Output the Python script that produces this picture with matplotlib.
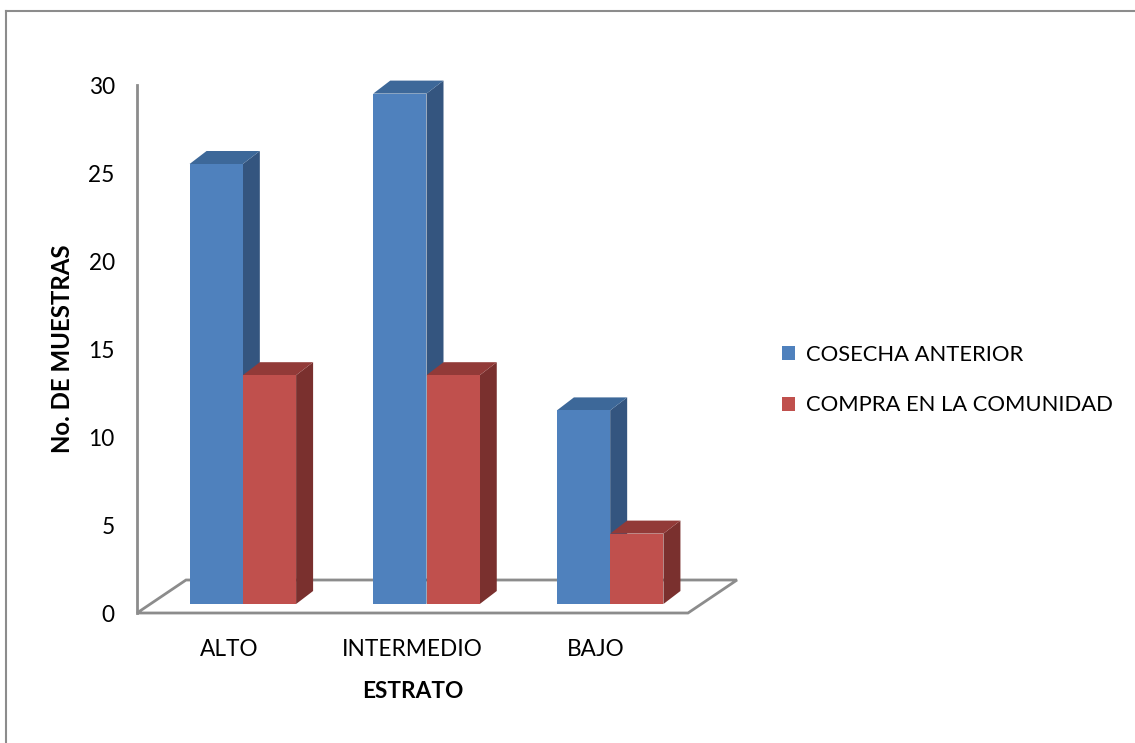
import matplotlib
matplotlib.use("Agg")
import matplotlib.pyplot as plt
import matplotlib.transforms as mtransforms
from matplotlib.patches import Polygon, Patch
from matplotlib.lines import Line2D

# ---- data ----
categories = ["ALTO", "INTERMEDIO", "BAJO"]
series_names = ["COSECHA ANTERIOR", "COMPRA EN LA COMUNIDAD"]
cosecha_anterior = [25, 29, 11]
compra_comunidad = [13, 13, 4]
y_ticks = [0, 5, 10, 15, 20, 25, 30]
x_title = "ESTRATO"
y_title = "No. DE MUESTRAS"

# ---- style ----
FONT = "Lato"
plt.rcParams["font.family"] = [FONT, "DejaVu Sans"]
W, H = 1135, 743
DPI = 100
FS = 16.3
txt_col = "#000000"
front_col = ["#4F81BD", "#C0504D"]
side_col = ["#34557F", "#7A302E"]
top_col = ["#3D6899", "#923A38"]
grey = "#8C8C8C"

bar_w = 0.29
bar_off_px = (14, 9)      # bar front plane offset from floor front (px, up)
bar_depth_px = (17, 13)   # bar depth vector (px, up)
floor_depth_px = (49, 33)

fig = plt.figure(figsize=(W / DPI, H / DPI), dpi=DPI)
ax_left, ax_right = 137, 688
ax_bot, ax_top = 613, 85
ax = fig.add_axes([ax_left / W, (H - ax_bot) / H, (ax_right - ax_left) / W, (ax_bot - ax_top) / H])
ax.set_xlim(-0.5, len(categories) - 0.5)
ax.set_ylim(0, 30)
ax.patch.set_alpha(0)
for s in ["top", "right", "bottom"]:
    ax.spines[s].set_visible(False)
ax.spines["left"].set_color(grey)
ax.spines["left"].set_linewidth(2)
ax.set_yticks(y_ticks)
ax.set_yticklabels([str(t) for t in y_ticks], fontsize=FS, color=txt_col)
ax.tick_params(axis="y", length=0, pad=16)
ax.set_xticks(range(len(categories)))
ax.set_xticklabels(categories, fontsize=FS, color=txt_col)
ax.tick_params(axis="x", length=0, pad=19)
ax.set_xlabel(x_title, fontsize=FS, fontweight="bold", labelpad=15, color=txt_col)
ax.set_ylabel(y_title, fontsize=17.3, fontweight="bold", labelpad=10, color=txt_col)

fig.canvas.draw()


def shift(pt, px):
    """Move a data point by a pixel vector, returning data coords."""
    d = ax.transData.transform(pt)
    return tuple(ax.transData.inverted().transform((d[0] + px[0], d[1] + px[1])))


# floor
n = len(categories)
fl = [(-0.5, 0), (n - 0.5, 0)]
fb = [shift(fl[1], floor_depth_px), shift(fl[0], floor_depth_px)]
floor = Polygon([fl[0], fl[1], fb[0], fb[1]], closed=True, facecolor="white",
                edgecolor=grey, lw=2, joinstyle="miter", clip_on=False, zorder=1)
ax.add_patch(floor)

off = mtransforms.ScaledTranslation(bar_off_px[0] / DPI, bar_off_px[1] / DPI, fig.dpi_scale_trans)
series = [cosecha_anterior, compra_comunidad]
for i in range(n):
    for k, vals in enumerate(series):
        v = vals[i]
        x0 = i - bar_w + k * bar_w
        x1 = x0 + bar_w
        z = 2 + i * 10 + k * 3
        p10 = shift((x1, 0), bar_off_px)
        p1v = shift((x1, v), bar_off_px)
        p0v = shift((x0, v), bar_off_px)
        ax.bar([x0 + bar_w / 2], [v], width=bar_w, color=front_col[k], lw=0,
               transform=ax.transData + off, clip_on=False, zorder=z + 2)
        side = [p10, p1v, shift(p1v, bar_depth_px), shift(p10, bar_depth_px)]
        ax.add_patch(Polygon(side, closed=True, facecolor=side_col[k], lw=0,
                             clip_on=False, zorder=z))
        top = [p0v, p1v, shift(p1v, bar_depth_px), shift(p0v, bar_depth_px)]
        ax.add_patch(Polygon(top, closed=True, facecolor=top_col[k], lw=0,
                             clip_on=False, zorder=z + 1))

# legend
handles = [Patch(facecolor=front_col[k], edgecolor="none") for k in range(2)]
fig.legend(handles, series_names, loc="center left",
           bbox_to_anchor=(762 / W, 1 - 380 / H), frameon=False,
           fontsize=15.8, handlelength=0.62, handleheight=0.62,
           handletextpad=0.5, labelspacing=1.4, labelcolor=txt_col)

# outer chart border (top and left visible)
fig.add_artist(Line2D([6 / W, 1.0], [1 - 11 / H, 1 - 11 / H], transform=fig.transFigure,
                      color=grey, lw=1.5))
fig.add_artist(Line2D([6 / W, 6 / W], [1 - 11 / H, 0], transform=fig.transFigure,
                      color=grey, lw=1.5))

fig.savefig("out.png", dpi=DPI)
